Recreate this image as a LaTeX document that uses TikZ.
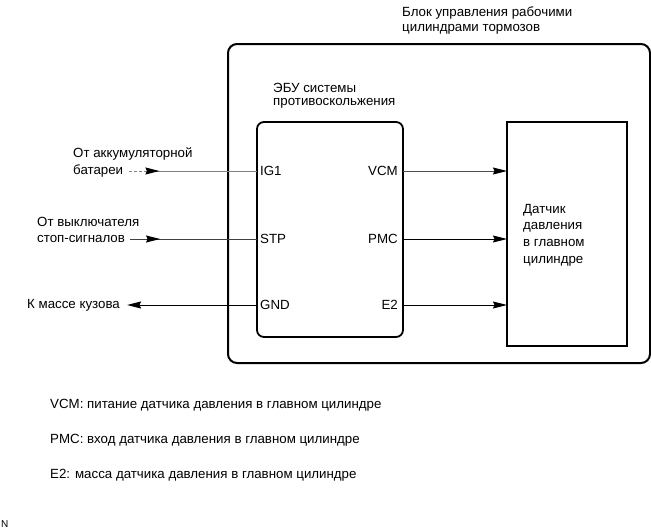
\documentclass[tikz,border=0pt]{standalone}
\usepackage{fontspec}
\setmainfont{Liberation Sans}
\usetikzlibrary{positioning}
\usetikzlibrary{arrows.meta}

\begin{document}
\begin{tikzpicture}[x=1pt, y=-1pt,
		t/.style = {inner sep=0pt, anchor=west, font=\fontsize{13.3}{16.7}\selectfont},
		tr/.style = {t, anchor=east},
		box/.style = {draw, outer sep=0pt, inner sep=0pt},
		w/.style = {line width=1pt},
		r/.style = {w, -{Stealth[length=14pt, width=7pt, inset=1.5pt, color=black]}},
		]
		
		\useasboundingbox (0,0) rectangle (651,530);
		
		% boxes
		\node[box, line width=2pt, rounded corners=9pt,
			minimum width=422pt, minimum height=319pt]	(blok)	at (439, 203.5)	{};
		\node[box, line width=1.8pt, rounded corners=7pt,
			minimum width=146pt, minimum height=215pt]	(ecu)	at (330, 229.5)	{};
		\node[box, line width=1.2pt,
			minimum width=120pt, minimum height=224pt]	(sen)	at (567, 234)	{};
		
		\node[t]	(blok1)	at (402, 13)	{Блок управления рабочими};
		\node[t]	(blok2)	at (402, 29)	{цилиндрами тормозов};
		\node[t]	(ecu1)	at (273, 88)	{ЭБУ системы};
		\node[t]	(ecu2)	at (273, 103)	{противоскольжения};
		\node[t, align=left]	(sen1)	at (523, 235)	{Датчик\\давления\\в главном\\цилиндре};
		
		% pins
		\node[t]	(ig1)	at (260, 171)	{IG1};
		\node[t]	(stp)	at (260, 239)	{STP};
		\node[t]	(gnd)	at (260, 305)	{GND};
		\node[tr]	(vcm)	at (398, 171)	{VCM};
		\node[tr]	(pmc)	at (398, 239)	{PMC};
		\node[tr]	(e2)	at (398, 305)	{E2};
		
		\node[t]	(bat1)	at (73, 154)	{От аккумуляторной};
		\node[t]	(bat2)	at (73, 171)	{батареи};
		\node[t]	(vyk1)	at (37, 222)	{От выключателя};
		\node[t]	(vyk2)	at (37, 239)	{стоп-сигналов};
		\node[t]	(kuz)	at (27, 305)	{К массе кузова};
		
		\draw[w, gray, densely dashed]	([xshift=6pt]bat2.east)	-- ++(15,0)	coordinate (b1);
		\draw[w, gray]	(b1)	-- (ecu.west |- ig1);
		\draw[r, gray]	(b1)	-- ++(15,0);
		\draw[w, black!75]	([xshift=5pt]vyk2.east)	-- (ecu.west |- stp);
		\draw[r, black!75]	([xshift=20pt]vyk2.east)	-- ++(15,0);
		\draw[r]	(ecu.west |- gnd)	-- ([xshift=7pt]kuz.east);
		
		\draw[r, black!70]	(ecu.east |- vcm)	-- (sen.west |- vcm);
		\draw[r]	(ecu.east |- pmc)	-- (sen.west |- pmc);
		\draw[r]	(ecu.east |- e2)	-- (sen.west |- e2);
		
		% notes
		\node[t]	(n1)	at (50, 405)	{VCM: питание датчика давления в главном цилиндре};
		\node[t]	(n2)	at (50, 440)	{PMC: вход датчика давления в главном цилиндре};
		\node[t]	(n3)	at (50, 475)	{E2: масса датчика давления в главном цилиндре};
		\node[t, font=\fontsize{10}{11}\selectfont]	(nn)	at (1, 524)	{N};
	\end{tikzpicture}
\end{document}
